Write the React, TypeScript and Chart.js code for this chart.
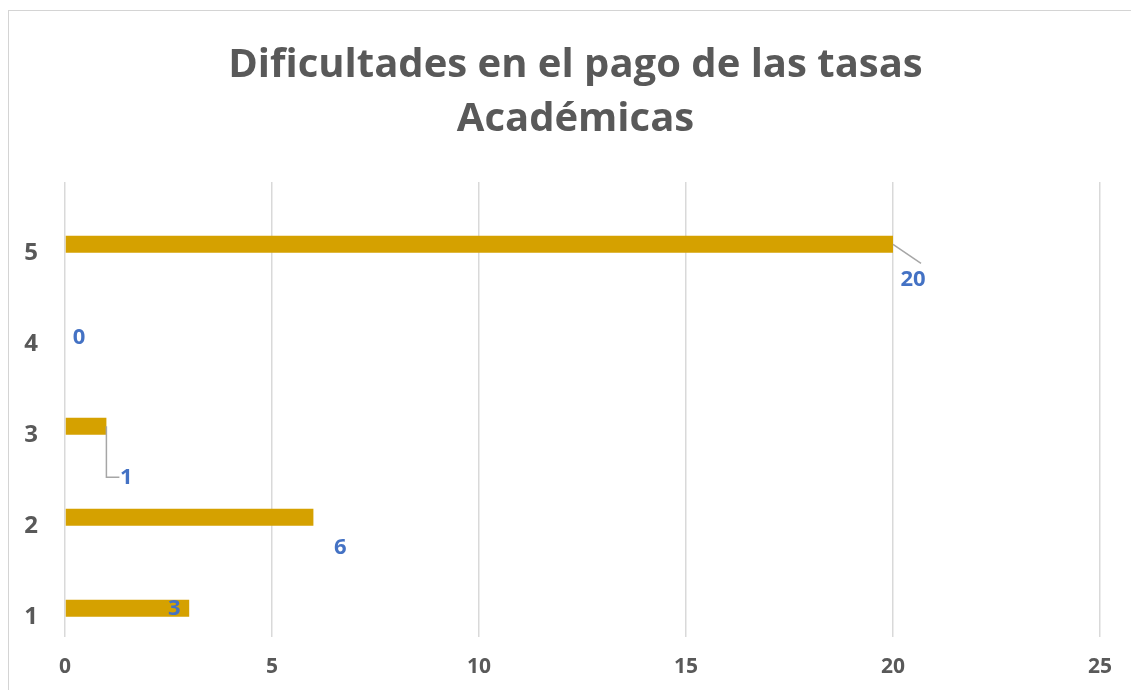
import React, { useEffect, useRef } from "react";
import { Chart, registerables } from "chart.js";

Chart.register(...registerables);

const categories = ["1", "2", "3", "4", "5"];
const values = [3, 6, 1, 0, 20];
const xMin = 0;
const xMax = 25;
const xStep = 5;
const titleLines = ["Dificultades en el pago de las tasas", "Académicas"];

// label placement (style only): offset from bar end / bar centre
const labelOffsets: [number, number][] = [
  [-15, 0],
  [27, 30],
  [20, 51],
  [14, 2],
  [20, 35],
];
const leaderKinds = ["none", "none", "elbow", "none", "straight"];

const FONT = "'Open Sans', 'Lato', sans-serif";
const GREY = "#595959";
const BLUE = "#4472C4";
const GOLD = "#D5A100";

const titlePlugin = {
  id: "centredTitle",
  afterDraw(chart: any) {
    const ctx = chart.ctx;
    ctx.save();
    ctx.fillStyle = GREY;
    ctx.font = `bold 40px ${FONT}`;
    ctx.textAlign = "center";
    ctx.textBaseline = "middle";
    const cx = chart.width / 2 + 10;
    titleLines.forEach((t, i) => ctx.fillText(t, cx, 66 + i * 54));
    ctx.restore();
  },
};

const labelPlugin = {
  id: "manualLabels",
  afterDatasetsDraw(chart: any) {
    const meta = chart.getDatasetMeta(1);
    const ctx = chart.ctx;
    ctx.save();
    meta.data.forEach((el: any, i: number) => {
      const bx = el.x;
      const by = el.y;
      const [dx, dy] = labelOffsets[i];
      const lx = bx + dx;
      const ly = by + dy;
      ctx.strokeStyle = "#A6A6A6";
      ctx.lineWidth = 1.5;
      if (leaderKinds[i] === "elbow") {
        ctx.beginPath();
        ctx.moveTo(bx, by);
        ctx.lineTo(bx, ly);
        ctx.lineTo(lx - 7, ly);
        ctx.stroke();
      } else if (leaderKinds[i] === "straight") {
        ctx.beginPath();
        ctx.moveTo(bx, by);
        ctx.lineTo(bx + 28, by + 19);
        ctx.stroke();
      }
      ctx.fillStyle = BLUE;
      ctx.font = `bold 22px ${FONT}`;
      ctx.textAlign = "center";
      ctx.textBaseline = "middle";
      ctx.fillText(String(values[i]), lx, ly);
    });
    ctx.restore();
  },
};

export default function App() {
  const ref = useRef<HTMLCanvasElement | null>(null);
  useEffect(() => {
    if (!ref.current) return;
    const chart = new Chart(ref.current, {
      type: "bar",
      data: {
        labels: categories,
        datasets: [
          {
            label: "",
            data: categories.map(() => null),
            backgroundColor: GOLD,
          },
          {
            label: "Serie",
            data: values,
            backgroundColor: GOLD,
          },
        ],
      },
      options: {
        indexAxis: "y",
        responsive: false,
        animation: false,
        categoryPercentage: 0.738,
        barPercentage: 0.506,
        layout: { padding: { left: 0, right: 31, top: 182, bottom: 0 } },
        plugins: {
          legend: { display: false },
          tooltip: { enabled: false },
          title: { display: false },
        },
        scales: {
          x: {
            min: xMin,
            max: xMax,
            ticks: {
              stepSize: xStep,
              color: GREY,
              padding: 17,
              font: { family: FONT, size: 21, weight: "bold" },
            },
            grid: { color: "#D9D9D9", lineWidth: 1.5, drawTicks: false },
            border: { display: false },
            afterFit: (s: any) => {
              s.height = 53;
            },
          },
          y: {
            reverse: true,
            ticks: {
              color: GREY,
              padding: 27,
              labelOffset: 26,
              font: { family: FONT, size: 24, weight: "bold" },
            },
            grid: { display: false, drawTicks: false },
            border: { display: false },
            afterFit: (s: any) => {
              s.width = 65;
            },
          },
        },
      },
      plugins: [labelPlugin, titlePlugin],
    });
    return () => chart.destroy();
  }, []);

  return (
    <div style={{ position: "fixed", left: 0, top: 0, width: 1131, height: 690, overflow: "hidden", background: "#fff" }}>
      <div
        style={{
          position: "absolute",
          left: 8,
          top: 10,
          width: 1150,
          height: 700,
          border: "1px solid #D4D4D4",
          boxSizing: "border-box",
        }}
      />
      <canvas ref={ref} width={1131} height={690} style={{ position: "absolute", left: 0, top: 0 }} />
    </div>
  );
}
